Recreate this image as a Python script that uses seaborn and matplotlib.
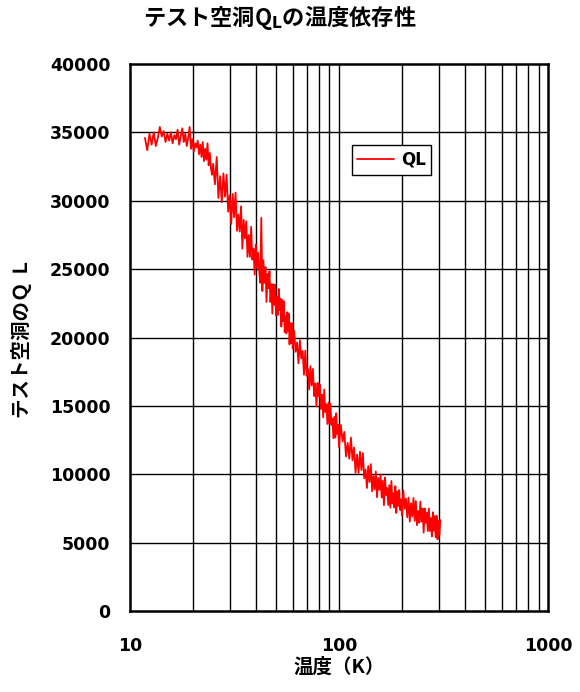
import matplotlib
matplotlib.use("Agg")
import matplotlib.pyplot as plt
import seaborn as sns
import pandas as pd
from matplotlib.ticker import FixedLocator, NullLocator

# ---------------- data ----------------
temp_low = [11.8, 12.1, 12.4, 12.7, 13.0, 13.3, 13.6, 13.9, 14.2, 14.5, 14.8, 15.1,
            15.4, 15.7, 16.0, 16.3, 16.6, 16.9, 17.2, 17.5, 17.8, 18.1, 18.4, 18.7,
            19.0, 19.3, 19.6, 19.9, 20.2, 20.5, 20.8, 21.1, 21.4, 21.7, 22.0, 22.3,
            22.6, 22.9, 23.2, 23.5, 23.8, 24.1, 24.4, 24.7, 25.0]
ql_low = [34600, 33700, 34900, 34100, 35000, 34000, 34600, 35400, 34700, 35100, 34300, 34900,
          34400, 35000, 34200, 34800, 34500, 35200, 34100, 34700, 35300, 34300, 34900, 34000,
          34600, 35400, 33800, 34500, 33600, 34200, 33900, 34400, 33400, 34100, 33200, 34300,
          32900, 33800, 33000, 34200, 32600, 33500, 32400, 31900, 32700]

temp_mid = [25.5, 26.0, 26.5, 27.0, 27.5, 28.0, 28.5, 29.0, 29.5, 30.0, 30.5, 31.0,
            31.5, 32.0, 32.5, 33.0, 33.5, 34.0, 34.5, 35.0, 35.5, 36.0, 36.5, 37.0,
            37.5, 38.0, 38.5, 39.0, 39.5, 40.0, 40.5, 41.0, 41.5, 42.0, 42.5, 43.0,
            43.5, 44.0, 44.5, 45.0, 45.5, 46.0, 46.5, 47.0, 47.5, 48.0, 48.5, 49.0,
            49.5, 50.0, 50.5, 51.0, 51.5, 52.0, 52.5, 53.0, 53.5, 54.0, 54.5, 55.0,
            55.5, 56.0, 56.5, 57.0, 57.5, 58.0, 58.5, 59.0, 59.5, 60.0]
ql_mid = [31200, 33200, 30200, 31800, 29900, 32000, 30300, 31900, 29200, 30400, 28300, 30500,
          28800, 30600, 27800, 29000, 27750, 29600, 26500, 28600, 27250, 28500, 25900, 27500,
          25900, 28100, 25700, 26500, 24600, 26800, 25100, 26200, 24900, 24000, 28750, 23400,
          25650, 24000, 25150, 22600, 24650, 23600, 24850, 22600, 23900, 21750, 23900, 22400,
          23850, 21600, 23000, 21650, 23550, 22000, 22850, 20800, 22750, 21200, 22650, 20400,
          21550, 20300, 21850, 20500, 21750, 19500, 21050, 19600, 21050, 19200]

temp_high = [61, 62, 63, 64, 65, 66, 67, 68, 69, 70, 71, 72, 73, 74, 75, 76, 77, 78, 79, 80,
             81, 82, 83, 84, 85, 86, 87, 88, 89, 90, 91, 92, 93, 94, 95, 96, 97, 98, 99, 100,
             102, 104, 106, 108, 110, 112, 114, 116, 118, 120, 122, 124, 126, 128, 130, 132,
             134, 136, 138, 140, 142, 144, 146, 148, 150, 152, 154, 156, 158, 160, 162, 164,
             166, 168, 170, 172, 174, 176, 178, 180, 182, 184, 186, 188, 190, 192, 194, 196,
             198, 200, 203, 206, 209, 212, 215, 218, 221, 224, 227, 230, 233, 236, 239, 242,
             245, 248, 251, 254, 257, 260, 263, 266, 269, 272, 275, 278, 281, 284, 287, 290,
             293, 296, 299, 302, 305]
ql_high = [20480, 18960, 19640, 18120, 19800, 18460, 19020, 17280, 19040, 17200,
           17700, 16200, 17900, 16500, 17700, 15720, 16640, 14960, 16680, 15700,
           16540, 14780, 15820, 14160, 16200, 14560, 15120, 13680, 15240, 13700,
           15160, 13620, 14080, 12640, 14200, 12680, 14460, 12940, 13620, 12000,
           13600, 12400, 13100, 11300, 12300, 11140, 12680, 11020, 11960, 10100,
           11450, 10100, 11650, 10300, 11550, 9700, 10350, 9000, 10610, 9430,
           10740, 8760, 9870, 8890, 10200, 8320, 9740, 8860, 9980, 8300,
           9520, 7740, 9760, 8480, 9000, 7750, 9200, 7560, 9510, 7870,
           8620, 7570, 9130, 7180, 8730, 7690, 8840, 7390, 8150, 7000,
           8840, 7480, 8220, 6860, 8300, 6540, 7880, 6920, 8260, 6600,
           8040, 6280, 7320, 6460, 8000, 6540, 7490, 5740, 7500, 6450,
           7200, 5850, 7500, 5860, 6800, 5460, 7220, 5880, 6940, 5400,
           6970, 5240, 6600, 5580, 6650]

series_name = "QL"
x_ticks = [10, 100, 1000]
x_tick_labels = ["10", "100", "1000"]
y_ticks = [0, 5000, 10000, 15000, 20000, 25000, 30000, 35000, 40000]
y_tick_labels = [str(v) for v in y_ticks]
x_grid = [20, 30, 40, 50, 60, 70, 80, 90, 100, 200, 300, 400, 500, 600, 700, 800, 900]

title_text = "テスト空洞Q$_{\\mathbf{L}}$の温度依存性"
xlabel_text = "温度（K）"
ylabel_text = "テスト空洞のＱ Ｌ"

# ---------------- figure ----------------
sns.set_style("white")
plt.rcParams["font.family"] = ["Noto Sans CJK JP", "DejaVu Sans"]
plt.rcParams["mathtext.fontset"] = "dejavusans"
plt.rcParams["text.color"] = "black"
plt.rcParams["axes.labelcolor"] = "black"
plt.rcParams["xtick.color"] = "black"
plt.rcParams["ytick.color"] = "black"

df = pd.DataFrame({
    "T": temp_low + temp_mid + temp_high,
    "Q": ql_low + ql_mid + ql_high,
})
df["series"] = series_name

fig = plt.figure(figsize=(5.8, 6.92), dpi=100)
ax = fig.add_axes([0.224, 0.117, 0.721, 0.7905])

sns.lineplot(data=df, x="T", y="Q", hue="series", palette=["#ff0000"],
             estimator=None, sort=False, linewidth=1.3, ax=ax)

ax.set_xscale("log")
ax.set_xlim(10, 1000)
ax.set_ylim(0, 40000)

ax.xaxis.set_major_locator(FixedLocator(x_ticks))
ax.xaxis.set_minor_locator(NullLocator())
ax.set_xticks(x_ticks)
ax.set_xticklabels(x_tick_labels)
ax.set_yticks(y_ticks)
ax.set_yticklabels(y_tick_labels)

for v in x_grid:
    ax.axvline(v, color="black", lw=1.0, zorder=0.5)
for v in y_ticks[1:-1]:
    ax.axhline(v, color="black", lw=1.0, zorder=0.5)

ax.tick_params(axis="both", which="both", length=0, colors="black")
ax.tick_params(axis="x", pad=19)
ax.tick_params(axis="y", pad=14)
for lab in ax.get_xticklabels() + ax.get_yticklabels():
    lab.set_fontfamily("DejaVu Sans")
    lab.set_fontweight("bold")
    lab.set_fontsize(12.5)
    lab.set_color("black")

for s in ax.spines.values():
    s.set_visible(True)
    s.set_color("black")
    s.set_linewidth(1.8)

ax.set_xlabel(xlabel_text, fontsize=14, fontweight="bold", color="black")
ax.set_ylabel(ylabel_text, fontsize=14, fontweight="bold", color="black")
ax.xaxis.set_label_coords(0.5, -0.085)
ax.yaxis.set_label_coords(-0.235, 0.5)

leg = ax.legend(loc="upper left", bbox_to_anchor=(0.53, 0.852), frameon=True,
                fancybox=False, edgecolor="black", framealpha=1,
                handlelength=2.2, handletextpad=0.4, borderpad=0.35, borderaxespad=0,
                prop={"weight": "bold", "size": 12, "family": "DejaVu Sans"})
leg.get_frame().set_linewidth(1.0)
for t in leg.get_texts():
    t.set_color("black")

fig.text(0.483, 0.974, title_text, ha="center", va="center",
         fontsize=16, fontweight="bold", color="black")

fig.savefig("out.png", dpi=100, facecolor="white")
